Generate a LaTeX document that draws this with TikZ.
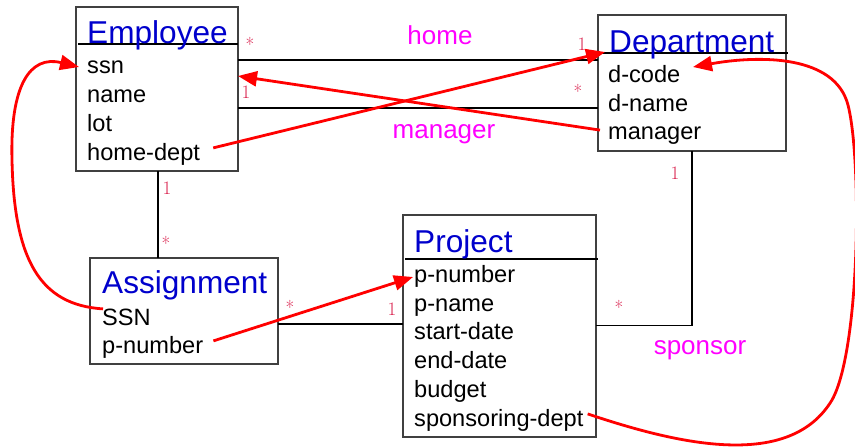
\documentclass[tikz,border=0pt]{standalone}
\usepackage{fontspec}
\setsansfont{Liberation Sans}
\usetikzlibrary{arrows.meta,calc}
\definecolor{boxgray}{rgb}{0.25,0.25,0.25}
\definecolor{ttlblue}{rgb}{0.0,0.0,0.8}
\definecolor{mult}{rgb}{0.85,0.12,0.30}
\definecolor{rel}{rgb}{1.0,0.0,1.0}
\tikzset{
  classbox/.style={draw=boxgray,line width=1.2pt,inner sep=0pt,outer sep=0pt,rectangle},
  ttl/.style={anchor=base west,inner sep=0pt,text=ttlblue,font=\sffamily\fontsize{31.6}{32}\selectfont},
  attr/.style={anchor=base west,inner sep=0pt,text=black,font=\sffamily\fontsize{23.6}{24}\selectfont},
  multl/.style={inner sep=0pt,text=mult,font=\fontsize{19}{19}\selectfont},
  rell/.style={anchor=base,inner sep=0pt,text=rel,font=\sffamily\fontsize{26}{26}\selectfont},
  assoc/.style={draw=black,line width=1.1pt},
  hdr/.style={draw=black,line width=1.1pt},
  fk/.style={draw=red,line width=2.8pt,-{Triangle[length=19pt,width=15pt]}},
}
\begin{document}
\begin{tikzpicture}[x=1pt,y=-1pt]
\useasboundingbox (0,0) rectangle (855,447);
% boxes
\node[classbox,minimum width=162pt,minimum height=164pt] (emp) at (157,89) {};
\node[classbox,minimum width=188pt,minimum height=136pt] (dep) at (692,83) {};
\node[classbox,minimum width=188pt,minimum height=106pt] (asg) at (184,311) {};
\node[classbox,minimum width=193pt,minimum height=222pt] (prj) at (499.5,326) {};
% header lines
\draw[hdr] (78,44) -- (emp.east |- 0,44);
\draw[hdr] (dep.west |- 0,53) -- (788,53);
\draw[hdr] (405,259) -- (598,259);
% Employee
\node[ttl] (empt) at (87,43) {Employee};
\node[attr] (essn) at (87,73) {ssn};
\node[attr] (ename) at (87,102) {name};
\node[attr] (elot) at (87,131) {lot};
\node[attr] (ehd) at (87,160) {home-dept};
% Department
\node[ttl] (dept) at (609,52) {Department};
\node[attr] (dcode) at (608,82) {d-code};
\node[attr] (dname) at (608,111) {d-name};
\node[attr] (dmgr) at (608,139) {manager};
% Assignment
\node[ttl] (asgt) at (102,293) {Assignment};
\node[attr] (assn) at (102,325) {SSN};
\node[attr] (apn) at (102,353) {p-number};
% Project
\node[ttl] (prjt) at (414,252) {Project};
\node[attr] (ppn) at (414,282) {p-number};
\node[attr] (ppname) at (414,311) {p-name};
\node[attr] (psd) at (414,339) {start-date};
\node[attr] (ped) at (414,368) {end-date};
\node[attr] (pbud) at (414,397) {budget};
\node[attr] (psp) at (414,426) {sponsoring-dept};
% associations
\draw[assoc] (emp.east |- 0,60) -- (dep.west |- 0,60);
\draw[assoc] (emp.east |- 0,108) -- (dep.west |- 0,108);
\draw[assoc] (emp.south -| 158,0) -- (asg.north -| 158,0);
\draw[assoc] (asg.east |- 0,324) -- (prj.west |- 0,324);
\draw[assoc] (dep.south) -- (692,325.5) -- (prj.east |- 0,325.5);
% multiplicities
\node[multl] (m1) at (250,44) {*};
\node[multl] (m2) at (582,44) {1};
\node[multl] (m3) at (246,92) {1};
\node[multl] (m4) at (578,91) {*};
\node[multl] (m5) at (167,188) {1};
\node[multl] (m6) at (166,243) {*};
\node[multl] (m7) at (290,307) {*};
\node[multl] (m8) at (392,309) {1};
\node[multl] (m9) at (675,173) {1};
\node[multl] (m10) at (619,307) {*};
% relationship names
\node[rell] (rhome) at (440,44) {home};
\node[rell] (rmgr) at (444,138) {manager};
\node[rell] (rspon) at (700,354) {sponsor};
% foreign key arrows
\coordinate (t1) at (238,76);
\coordinate (t2) at (605,52);
\coordinate (t3) at (79,67);
\coordinate (t4) at (413,277);
\coordinate (t5) at (693,67);
\draw[fk] (dmgr.west) ++(-8,-5) coordinate (s1) -- (t1);
\draw[fk] ($(ehd.east)+(13,-6)$) coordinate (s2) -- (t2);
\draw[fk] ($(assn.west)+(1,-8)$) coordinate (s3) .. controls (40,305) and (14,260) .. (12,160)
   .. controls (10,85) and (30,55) .. (t3);
\draw[fk] ($(apn.east)+(10,-6)$) coordinate (s4) -- (t4);
\draw[fk] ($(psp.east)+(4,-6)$) coordinate (s5) .. controls (680,445) and (790,470) .. (832,400)
   .. controls (860,350) and (862,160) .. (848,105)
   .. controls (835,55) and (760,55) .. (t5);
\end{tikzpicture}
\end{document}
